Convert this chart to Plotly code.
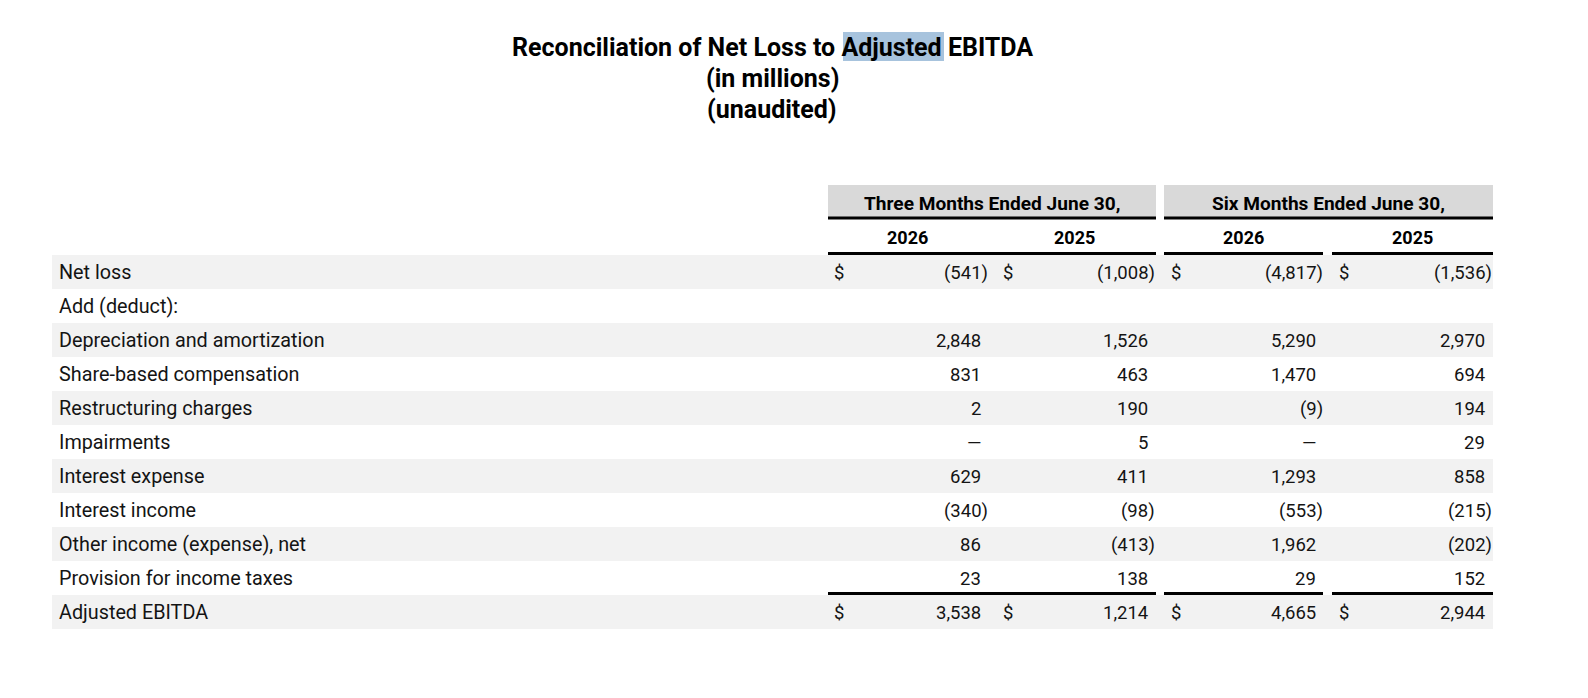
import plotly.graph_objects as go

# ---------------- data ----------------
title_lines = ["Reconciliation of Net Loss to Adjusted EBITDA", "(in millions)", "(unaudited)"]
group_headers = ["Three Months Ended June 30,", "Six Months Ended June 30,"]
year_labels = ["2026", "2025", "2026", "2025"]
row_labels = [
    "Net loss",
    "Add (deduct):",
    "Depreciation and amortization",
    "Share-based compensation",
    "Restructuring charges",
    "Impairments",
    "Interest expense",
    "Interest income",
    "Other income (expense), net",
    "Provision for income taxes",
    "Adjusted EBITDA",
]
# None = blank cell, 0 = em dash
three_2026 = [-541, None, 2848, 831, 2, 0, 629, -340, 86, 23, 3538]
three_2025 = [-1008, None, 1526, 463, 190, 5, 411, -98, -413, 138, 1214]
six_2026 = [-4817, None, 5290, 1470, -9, 0, 1293, -553, 1962, 29, 4665]
six_2025 = [-1536, None, 2970, 694, 194, 29, 858, -215, -202, 152, 2944]
dollar_rows = [0, 10]
shaded_rows = [0, 2, 4, 6, 8, 10]

# ---------------- layout geometry ----------------
W, H = 1588, 698
FONT = "Roboto"
TXT = "#141414"
row_top0 = 255.0
row_h = 34.0
band_x0, band_x1 = 52, 1493
group_spans = [(828, 1156), (1164, 1493)]
year_line_spans = [(828, 1156), (1164, 1323), (1332, 1493)]
year_centers = [907, 1074, 1243, 1412]
dollar_x = [832, 1001, 1169, 1337]
digit_right = [983, 1150, 1318, 1487]
paren_w = 7

fig = go.Figure()
fig.add_trace(go.Scatter(x=[0, W], y=[0, H], mode="markers", marker=dict(opacity=0), hoverinfo="skip", showlegend=False))

shapes = []
annos = []

# title highlight on "Adjusted"
shapes.append(dict(type="rect", xref="x", yref="y", x0=843, x1=944, y0=32, y1=61,
                   fillcolor="#a7c3dd", line=dict(width=0), layer="below"))
title_y = [47, 78, 109]
for t, yy in zip(title_lines, title_y):
    annos.append(dict(x=772, y=yy, text="<b>" + t + "</b>", showarrow=False, xanchor="center", yanchor="middle",
                      font=dict(family=FONT, size=25, color="#000000")))

# group header boxes
for (x0, x1), g in zip(group_spans, group_headers):
    shapes.append(dict(type="rect", xref="x", yref="y", x0=x0, x1=x1, y0=185, y1=218,
                       fillcolor="#d9d9d9", line=dict(width=0), layer="below"))
    shapes.append(dict(type="line", xref="x", yref="y", x0=x0, x1=x1, y0=218, y1=218,
                       line=dict(color="#000000", width=3)))
    annos.append(dict(x=(x0 + x1) / 2, y=203, text="<b>" + g + "</b>", showarrow=False, xanchor="center",
                      yanchor="middle", font=dict(family=FONT, size=19.1, color="#000000")))

# year labels and lines
for xc, yl in zip(year_centers, year_labels):
    annos.append(dict(x=xc, y=237, text="<b>" + yl + "</b>", showarrow=False, xanchor="center", yanchor="middle",
                      font=dict(family=FONT, size=18, color="#000000")))
for (x0, x1) in year_line_spans:
    shapes.append(dict(type="line", xref="x", yref="y", x0=x0, x1=x1, y0=253.5, y1=253.5,
                       line=dict(color="#000000", width=3)))

# row bands
for r in shaded_rows:
    y0 = row_top0 + r * row_h
    shapes.append(dict(type="rect", xref="x", yref="y", x0=band_x0, x1=band_x1, y0=y0, y1=y0 + row_h,
                       fillcolor="#f2f2f2", line=dict(width=0), layer="below"))

# total lines above Adjusted EBITDA
y_tot = row_top0 + 10 * row_h - 1.5
for (x0, x1) in year_line_spans:
    shapes.append(dict(type="line", xref="x", yref="y", x0=x0, x1=x1, y0=y_tot, y1=y_tot,
                       line=dict(color="#000000", width=3)))


def fmt(v):
    if v is None:
        return ""
    if v == 0:
        return "\u2014"
    if v < 0:
        return "({:,})".format(-v)
    return "{:,}".format(v)


columns = [three_2026, three_2025, six_2026, six_2025]
for i, lab in enumerate(row_labels):
    yc = row_top0 + i * row_h + row_h / 2 + 0.5
    annos.append(dict(x=57, y=yc, text=lab, showarrow=False, xanchor="left", yanchor="middle",
                      font=dict(family=FONT, size=19.8, color=TXT)))
    for c, col in enumerate(columns):
        v = col[i]
        if v is None:
            continue
        xr = digit_right[c] + (paren_w if v < 0 else 0)
        annos.append(dict(x=xr, y=yc, text=fmt(v), showarrow=False, xanchor="right", yanchor="middle",
                          font=dict(family=FONT, size=18.5, color=TXT)))
        if i in dollar_rows:
            annos.append(dict(x=dollar_x[c], y=yc, text="$", showarrow=False, xanchor="left", yanchor="middle",
                              font=dict(family=FONT, size=18.5, color=TXT)))

fig.update_layout(
    width=W, height=H, margin=dict(l=0, r=0, t=0, b=0),
    paper_bgcolor="#ffffff", plot_bgcolor="#ffffff",
    xaxis=dict(range=[0, W], visible=False, fixedrange=True),
    yaxis=dict(range=[H, 0], visible=False, fixedrange=True),
    shapes=shapes, annotations=annos, showlegend=False,
)
fig.write_html("out.html", config={"displayModeBar": False},
               post_script="document.body.style.margin='0';document.body.style.overflow='hidden';")
